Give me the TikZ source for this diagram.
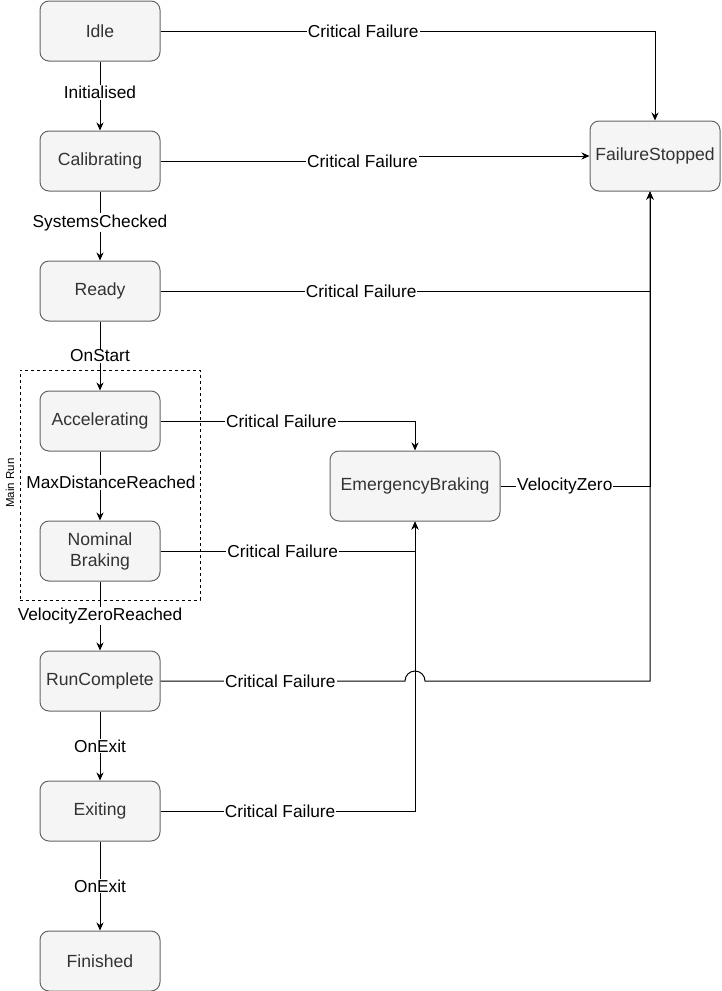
\documentclass[tikz,border=0pt]{standalone}
\usepackage{fontspec}
\setmainfont{Liberation Sans}
\usepackage{xcolor}
\usepackage{tikz}
\usetikzlibrary{arrows.meta}
\definecolor{boxfill}{HTML}{F5F5F5}
\definecolor{boxline}{HTML}{666666}
\definecolor{boxtext}{HTML}{333333}
\tikzstyle{state}=[draw=boxline,fill=boxfill,text=boxtext,line width=1pt,rounded corners=9pt,minimum width=120pt,minimum height=60pt,inner sep=0pt,align=center,font=\fontsize{17.6}{21}\selectfont]
\tikzstyle{bigstate}=[state,minimum height=70pt]
\tikzstyle{trans}=[line width=1pt,-{Stealth[length=8pt,width=7pt]}]
\tikzstyle{tlabel}=[fill=white,inner sep=1pt,font=\fontsize{17.3}{20}\selectfont]
\tikzstyle{group}=[draw,dashed,line width=0.8pt,minimum width=180pt,minimum height=230pt,inner sep=0pt]

\begin{document}
\begin{tikzpicture}[x=1pt,y=-1pt]
    \useasboundingbox (0,0) rectangle (721,991);
    % main run container
    \node[group] (mainrun) at (110,485) {};
    \node[rotate=90,font=\fontsize{11.5}{14}\selectfont] (mainrunlbl) at (10,483) {Main Run};
    % states
    \node[state] (idle) at (100,31) {Idle};
    \node[state] (calib) at (100,161) {Calibrating};
    \node[state] (ready) at (100,291) {Ready};
    \node[state] (accel) at (100,421) {Accelerating};
    \node[state] (nombrake) at (100,551) {Nominal\\Braking};
    \node[state] (runcomplete) at (100,681) {RunComplete};
    \node[state] (exiting) at (100,811) {Exiting};
    \node[state] (finished) at (100,961) {Finished};
    \node[bigstate,minimum width=130pt] (failstop) at (655,156) {FailureStopped};
    \node[bigstate,minimum width=170pt] (emergbrake) at (415,486) {EmergencyBraking};
    \coordinate (bus) at ([xshift=-5pt]failstop.south);
    % normal run
    \draw[trans] (idle) -- node[tlabel,pos=0.45] {Initialised} (calib);
    \draw[trans] (calib) -- node[tlabel,pos=0.45] {SystemsChecked} (ready);
    \draw[trans] (ready) -- node[tlabel,pos=0.5] {OnStart} (accel);
    \draw[trans] (accel) -- node[tlabel,pos=0.45,xshift=11pt] {MaxDistanceReached} (nombrake);
    \draw[trans] (nombrake) -- node[tlabel,pos=0.5] {VelocityZeroReached} (runcomplete);
    \draw[trans] (runcomplete) -- node[tlabel,pos=0.5] {OnExit} (exiting);
    \draw[trans] (exiting) -- node[tlabel,pos=0.5] {OnExit} (finished);
    % failures
    \draw[trans] (idle) -- node[tlabel,pos=0.41] {Critical Failure} (idle -| failstop) -- (failstop);
    \draw[trans] (calib.east) -- ++(202,0) node[tlabel] {Critical Failure} |- (failstop.west);
    \draw[trans] (ready) -- node[tlabel,pos=0.41] {Critical Failure} (ready -| bus) -- (bus);
    \draw[trans] (accel) -- node[tlabel,pos=0.475] {Critical Failure} (accel -| emergbrake) -- (emergbrake);
    \draw[trans] (nombrake) -- node[tlabel,pos=0.48] {Critical Failure} (nombrake -| emergbrake) -- (emergbrake);
    \draw[trans] (emergbrake) -- node[tlabel,pos=0.43] {VelocityZero} (emergbrake -| bus) -- (bus);
    \draw[trans] (runcomplete) -- node[tlabel,pos=0.49] {Critical Failure} ([xshift=-10pt]runcomplete -| emergbrake)
      arc[start angle=180,end angle=0,radius=10pt] -- (runcomplete -| bus) -- (bus);
    \draw[trans] (exiting) -- node[tlabel,pos=0.47] {Critical Failure} (exiting -| emergbrake) -- (emergbrake);
\end{tikzpicture}
\end{document}
